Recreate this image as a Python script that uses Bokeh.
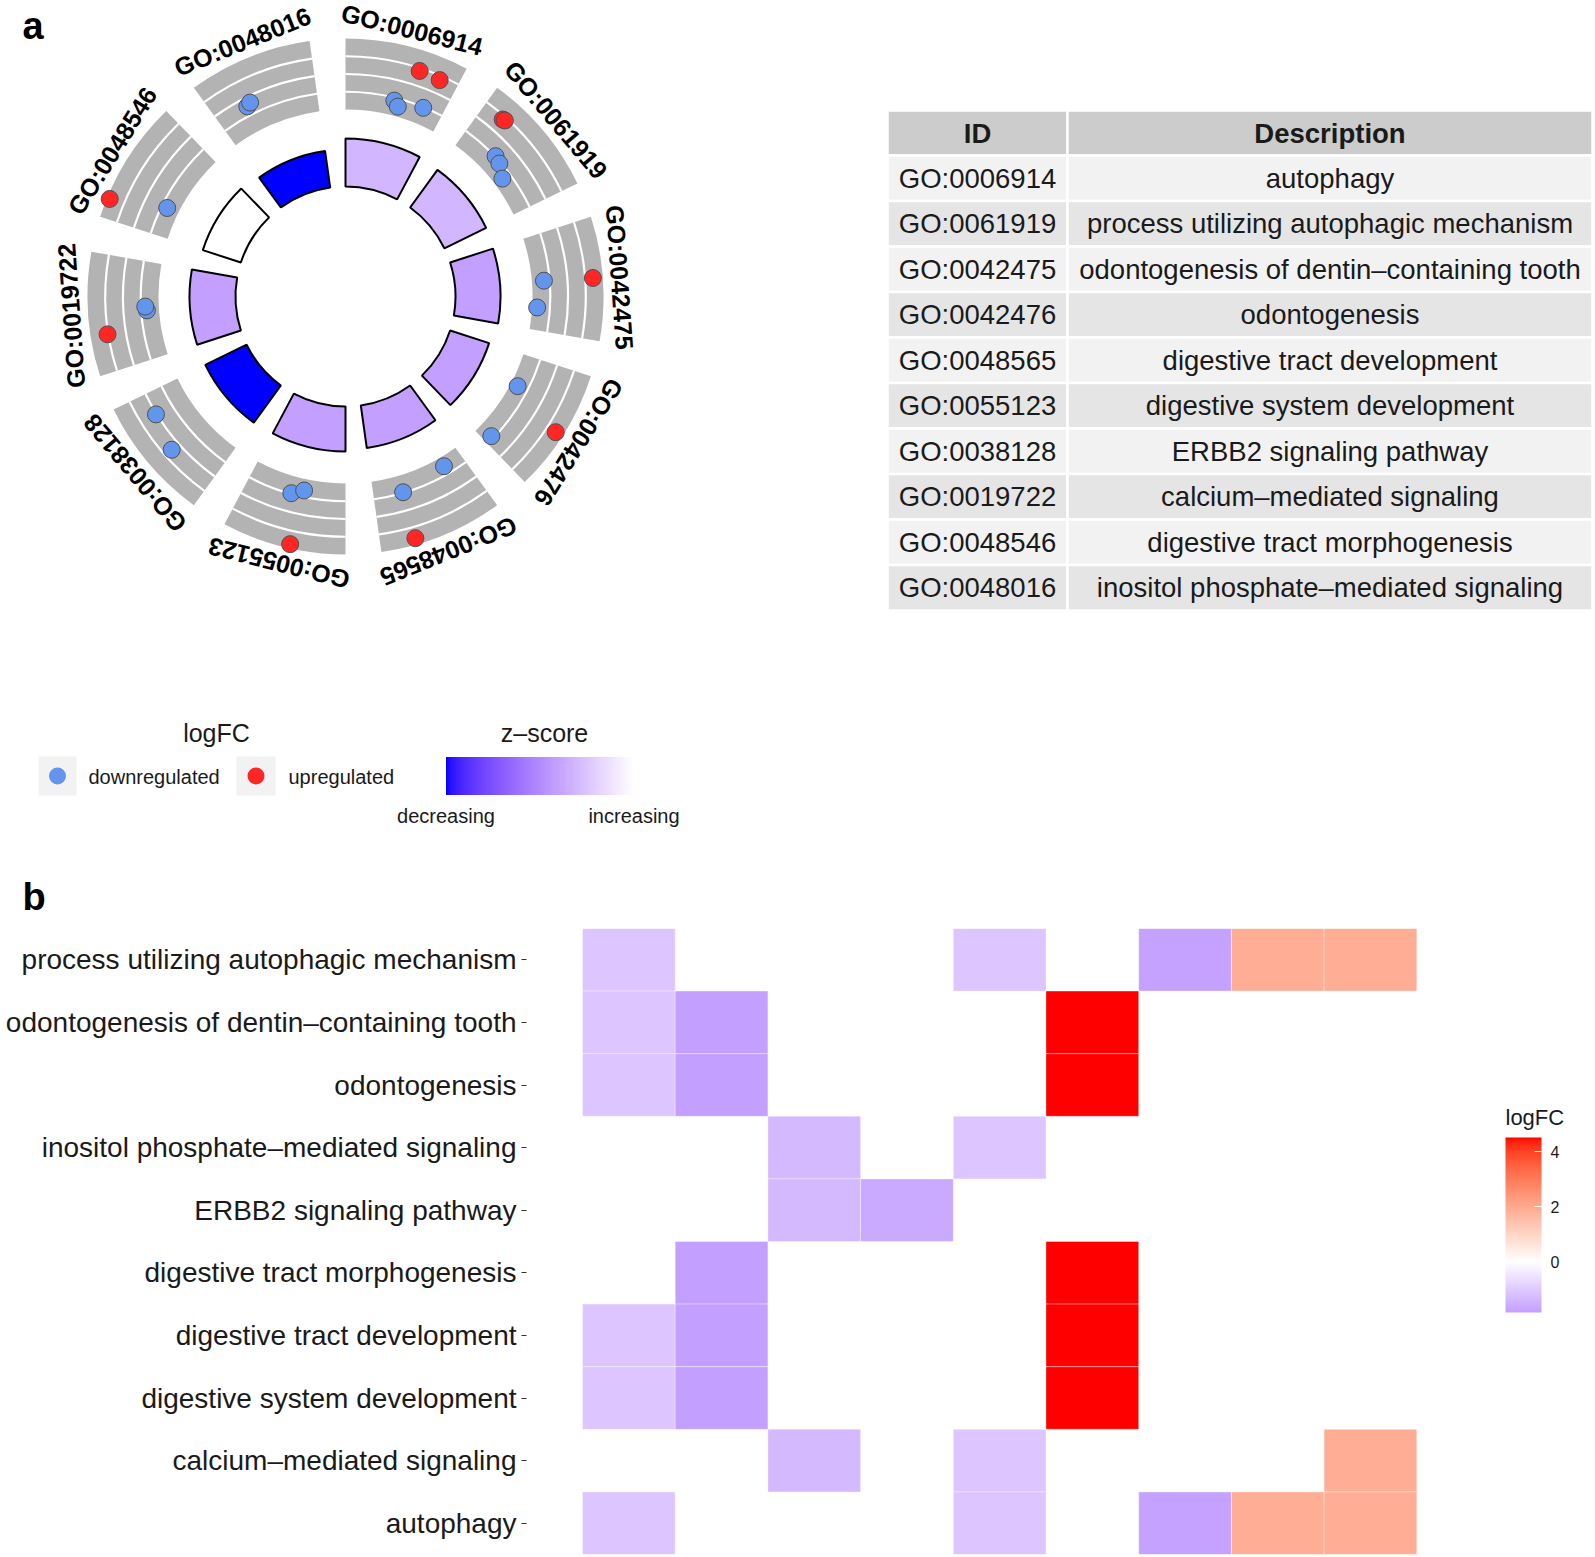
import numpy as np
from bokeh.plotting import figure
from bokeh.models import (Range1d, FactorRange, LinearColorMapper, ColorBar,
                          FixedTicker, ColumnDataSource)
from bokeh.transform import transform
from bokeh.embed import file_html
from bokeh.resources import INLINE
from bokeh.core.properties import value

# ---------------- data ----------------
go_ids = ["GO:0006914", "GO:0061919", "GO:0042475", "GO:0042476", "GO:0048565",
          "GO:0055123", "GO:0038128", "GO:0019722", "GO:0048546", "GO:0048016"]
go_desc = ["autophagy", "process utilizing autophagic mechanism",
           "odontogenesis of dentin\u2013containing tooth", "odontogenesis",
           "digestive tract development", "digestive system development",
           "ERBB2 signaling pathway", "calcium\u2013mediated signaling",
           "digestive tract morphogenesis", "inositol phosphate\u2013mediated signaling"]
zscore = [-0.447, -0.447, -0.577, -0.577, -0.577, -0.577, -1.414, -0.577, 0.0, -1.414]
neg_log10_padj = [5.0, 4.84, 4.69, 4.27, 4.48, 4.69, 4.79, 4.79, 4.17, 3.85]

gene_logfc = [-1.1, -1.85, -1.35, -1.65, -1.1, 4.52, -1.8, 1.9, 1.9]   # genes 1..9
term_genes = [[1, 5, 7, 8, 9], [1, 5, 7, 8, 9], [1, 2, 6], [1, 2, 6], [1, 2, 6],
              [1, 2, 6], [3, 4], [3, 5, 9], [2, 6], [3, 5]]
# position of each gene's dot inside its term sector (fraction of the sector, jitter)
dot_slot = [[.50, .55, .80, .65, .84], [.39, .47, .61, .20, .22], [.48, .76, .49],
            [.34, .92, .53], [.21, .70, .71], [.55, .43, .45], [.79, .45],
            [.50, .54, .32], [.30, .16], [.31, .35]]
# radial reading of each dot on the outer band's 0-4 grid
dot_radial = [[.84, .56, .96, 2.84, 2.76], [1.04, .92, .52, 2.8, 2.84], [.68, .28, 3.44],
              [.4, .84, 3.56], [.52, .96, 3.64], [.96, .64, 3.76], [2.04, 2.52],
              [.68, .76, 3.04], [.68, 3.84], [1.52, 1.64]]

heat_order = ["process utilizing autophagic mechanism",
              "odontogenesis of dentin\u2013containing tooth", "odontogenesis",
              "inositol phosphate\u2013mediated signaling", "ERBB2 signaling pathway",
              "digestive tract morphogenesis", "digestive tract development",
              "digestive system development", "calcium\u2013mediated signaling", "autophagy"]

# ---------------- colour helpers (ggplot-like Lab gradient2) ----------------
WP = (0.95047, 1.0, 1.08883)


def _lin(c):
    c = c / 255
    return c / 12.92 if c <= 0.04045 else ((c + 0.055) / 1.055) ** 2.4


def _gam(c):
    c = min(max(c, 0.0), 1.0)
    return 12.92 * c if c <= 0.0031308 else 1.055 * c ** (1 / 2.4) - 0.055


def hex2lab(h):
    r, g, b = [_lin(int(h[i:i + 2], 16)) for i in (1, 3, 5)]
    X = 0.4124564 * r + 0.3575761 * g + 0.1804375 * b
    Y = 0.2126729 * r + 0.7151522 * g + 0.0721750 * b
    Z = 0.0193339 * r + 0.1191920 * g + 0.9503041 * b

    def f(t):
        return t ** (1 / 3) if t > 216 / 24389 else (24389 / 27 * t + 16) / 116
    fx, fy, fz = f(X / WP[0]), f(Y / WP[1]), f(Z / WP[2])
    return (116 * fy - 16, 500 * (fx - fy), 200 * (fy - fz))


def lab2hex(L, a, b):
    fy = (L + 16) / 116
    fx = fy + a / 500
    fz = fy - b / 200

    def fi(t):
        return t ** 3 if t ** 3 > 216 / 24389 else (116 * t - 16) / (24389 / 27)
    X, Y, Z = fi(fx) * WP[0], fi(fy) * WP[1], fi(fz) * WP[2]
    r = 3.2404542 * X - 1.5371385 * Y - 0.4985314 * Z
    g = -0.9692660 * X + 1.8760108 * Y + 0.0415560 * Z
    bb = 0.0556434 * X - 0.2040259 * Y + 1.0572252 * Z
    return "#%02x%02x%02x" % tuple(int(round(_gam(c) * 255)) for c in (r, g, bb))


def mix(c1, c2, u):
    l1, l2 = hex2lab(c1), hex2lab(c2)
    return lab2hex(*[a + (b - a) * u for a, b in zip(l1, l2)])


def gradient2(v, vmin, vmax, low, mid, high):
    s = max(abs(vmin), abs(vmax)) or 1.0
    t = 0.5 + v / (2 * s)
    if t <= 0.5:
        return mix(low, mid, t / 0.5)
    return mix(mid, high, (t - 0.5) / 0.5)


def palette(vmin, vmax, low, mid, high, n=256):
    return [gradient2(x, vmin, vmax, low, mid, high) for x in np.linspace(vmin, vmax, n)]


FONT = value("Liberation Sans")
TXT = "#1a1a1a"

# ---------------- top panel (circle, table, legends) ----------------
W = 1595
TOP_H = 918
p = figure(width=W, height=TOP_H, x_range=Range1d(0, W), y_range=Range1d(-TOP_H, 0),
           toolbar_location=None, output_backend="svg", min_border=0,
           x_axis_location=None, y_axis_location=None, outline_line_color=None)
p.grid.visible = False

CX, CY = 345.0, -296.0
R_IN, R_RING = 110.0, 48.0
B_IN, B_OUT = 187.0, 258.0
SECT, SPAN = 36.0, 28.0

zmin, zmax = min(zscore), max(zscore)
zmap = LinearColorMapper(palette=palette(zmin, zmax, "#0000FF", "#FFFFFF", "#FF0000"),
                         low=zmin, high=zmax)

starts = [np.radians(90 - SECT * i) for i in range(len(go_ids))]
ends = [s - np.radians(SPAN) for s in starts]

# outer grey bands
p.annular_wedge(x=CX, y=CY, inner_radius=B_IN, outer_radius=B_OUT,
                start_angle=ends, end_angle=starts,
                fill_color="#B3B3B3", line_color=None)
# white grid arcs in the bands
arc_x, arc_y, arc_r, arc_s, arc_e = [], [], [], [], []
for i in range(len(go_ids)):
    for k in (1, 2, 3):
        arc_x.append(CX); arc_y.append(CY)
        arc_r.append(B_IN + (B_OUT - B_IN) * k / 4)
        arc_s.append(ends[i]); arc_e.append(starts[i])
p.arc(x=arc_x, y=arc_y, radius=arc_r, start_angle=arc_s, end_angle=arc_e,
      line_color="white", line_width=2.2)

# gene dots
dx, dy, dc = [], [], []
for i, genes in enumerate(term_genes):
    for j, g in enumerate(genes):
        th = starts[i] - dot_slot[i][j] * np.radians(SPAN)
        r = B_IN + dot_radial[i][j] * (B_OUT - B_IN) / 4
        dx.append(CX + r * np.cos(th)); dy.append(CY + r * np.sin(th))
        dc.append("#6495ED" if gene_logfc[g - 1] < 0 else "#FF2626")
p.scatter(x=dx, y=dy, size=17, fill_color=dc, line_color="#505050", line_width=1)

# inner z-score ring
ring = ColumnDataSource(dict(
    x=[CX] * len(go_ids), y=[CY] * len(go_ids), z=zscore,
    rout=[R_IN + R_RING * v / max(neg_log10_padj) for v in neg_log10_padj],
    s=ends, e=starts))
p.annular_wedge(x="x", y="y", inner_radius=R_IN, outer_radius="rout", start_angle="s",
                end_angle="e", source=ring,
                fill_color=transform("z", zmap), line_color="black", line_width=2)

# term labels
R_LAB = 275.0
lx, ly, la = [], [], []
for i in range(len(go_ids)):
    c = starts[i] - np.radians(SPAN) / 2
    lx.append(CX + R_LAB * np.cos(c))
    ly.append(CY + R_LAB * np.sin(c))
    la.append(c - np.pi / 2)
p.text(x=lx, y=ly, text=go_ids, angle=la, text_font=FONT, text_font_style="bold",
       text_font_size="25px", text_align="center", text_baseline="middle", text_color="black")

# panel letters
p.text(x=[22, 22], y=[-25, -896], text=["a", "b"], text_font=FONT, text_font_style="bold",
       text_font_size="38px", text_align="left", text_baseline="middle", text_color="black")

# table
T_L, T_M, T_R = 887, 1067, 1592
T_TOP, H_H, R_H = 110, 45, 45.5
p.quad(left=[T_L, T_M], right=[T_M, T_R], top=[-T_TOP] * 2, bottom=[-(T_TOP + H_H)] * 2,
       fill_color="#CCCCCC", line_color="white", line_width=2.5)
rl, rr, rt, rb, rf = [], [], [], [], []
for k in range(len(go_ids)):
    top = T_TOP + H_H + R_H * k
    for a, b in ((T_L, T_M), (T_M, T_R)):
        rl.append(a); rr.append(b); rt.append(-top); rb.append(-(top + R_H))
        rf.append("#F2F2F2" if k % 2 == 0 else "#E5E5E5")
p.quad(left=rl, right=rr, top=rt, bottom=rb, fill_color=rf, line_color="white", line_width=2.5)
p.text(x=[(T_L + T_M) / 2, (T_M + T_R) / 2], y=[-(T_TOP + H_H / 2)] * 2, text=["ID", "Description"],
       text_font=FONT, text_font_style="bold", text_font_size="27.5px", text_align="center",
       text_baseline="middle", text_color=TXT)
row_y = [-(T_TOP + H_H + R_H * k + R_H / 2) for k in range(len(go_ids))]
p.text(x=[(T_L + T_M) / 2] * len(go_ids), y=row_y, text=go_ids, text_font=FONT,
       text_font_size="27.5px", text_align="center", text_baseline="middle", text_color=TXT)
p.text(x=[(T_M + T_R) / 2] * len(go_ids), y=row_y, text=go_desc, text_font=FONT,
       text_font_size="27.5px", text_align="center", text_baseline="middle", text_color=TXT)

# legend: logFC
p.text(x=[216, 544], y=[-732, -732], text=["logFC", "z\u2013score"], text_font=FONT,
       text_font_size="25px", text_align="center", text_baseline="middle", text_color=TXT)
p.quad(left=[38, 236], right=[76, 275], top=[-756, -756], bottom=[-795, -795],
       fill_color="#F2F2F2", line_color=None)
p.scatter(x=[57, 255.5], y=[-775.5, -775.5], size=17, fill_color=["#6495ED", "#FF2626"],
          line_color=None)
p.text(x=[88, 288], y=[-776, -776], text=["downregulated", "upregulated"], text_font=FONT,
       text_font_size="20px", text_align="left", text_baseline="middle", text_color=TXT)

zcb = ColorBar(color_mapper=zmap, orientation="horizontal", width=188, height=38,
               location=(445.5, TOP_H - 829.5), padding=0,
               ticker=FixedTicker(ticks=[zmin, zmax]),
               major_label_overrides={zmin: "decreasing", zmax: "increasing"},
               major_label_text_font_size="20px", major_label_text_font="Liberation Sans",
               major_label_text_color=TXT, label_standoff=10,
               major_tick_line_color=None, minor_tick_line_color=None,
               bar_line_color=None, border_line_color=None, background_fill_alpha=0)
p.add_layout(zcb, "center")

# ---------------- heatmap (b) ----------------
HM_H = 1557 - TOP_H
FRAME_L, FRAME_T, FRAME_B = 526, 928, 1554
TILE = 92.7
ROW = (FRAME_B - FRAME_T) / len(heat_order)
lo, hi = min(gene_logfc), max(gene_logfc)
hmap = LinearColorMapper(palette=palette(lo, hi, "#0000FF", "#FFFFFF", "#FF0000"), low=lo, high=hi)

hx, hy, hv = [], [], []
for desc in heat_order:
    i = go_desc.index(desc)
    for g in term_genes[i]:
        hx.append(g); hy.append(desc); hv.append(gene_logfc[g - 1])
hsrc = ColumnDataSource(dict(x=hx, y=hy, v=hv))

x0 = 0.5 - (582 - FRAME_L) / TILE
hp = figure(width=W, height=HM_H, x_range=Range1d(x0, x0 + (W - FRAME_L) / TILE),
            y_range=FactorRange(factors=list(reversed(heat_order))),
            toolbar_location=None, output_backend="svg", min_border_left=FRAME_L,
            min_border_right=0, min_border_top=FRAME_T - TOP_H, min_border_bottom=1557 - FRAME_B,
            x_axis_location=None, outline_line_color=None)
hp.grid.visible = False
hp.rect(x="x", y="y", width=1, height=1, source=hsrc, fill_color=transform("v", hmap),
        line_color="white", line_width=1, line_alpha=0.35)
ax = hp.yaxis[0]
ax.axis_line_color = None
ax.major_tick_line_color = "#333333"
ax.major_tick_out = 5
ax.major_tick_in = 0
ax.minor_tick_line_color = None
ax.major_label_standoff = 5
ax.major_label_text_font = "Liberation Sans"
ax.major_label_text_font_size = "28px"
ax.major_label_text_color = TXT

cb = ColorBar(color_mapper=hmap, orientation="vertical", width=36, height=175,
              location=(1505 - FRAME_L, FRAME_B - 1312), padding=0,
              ticker=FixedTicker(ticks=[0, 2, 4]),
              major_label_text_font_size="16px", major_label_text_font="Liberation Sans",
              major_label_text_color=TXT, label_standoff=9,
              major_tick_line_color="white", major_tick_in=7, major_tick_out=0,
              minor_tick_line_color=None,
              bar_line_color=None, border_line_color=None)
hp.add_layout(cb, "center")
hp.text(x=[x0 + (1505 - FRAME_L) / TILE], y=[(FRAME_B - 1117) / ROW], text=["logFC"],
        text_font=FONT, text_font_size="22px", text_align="left",
        text_baseline="middle", text_color=TXT)

open("out.html", "w").write(file_html([p, hp], INLINE))
